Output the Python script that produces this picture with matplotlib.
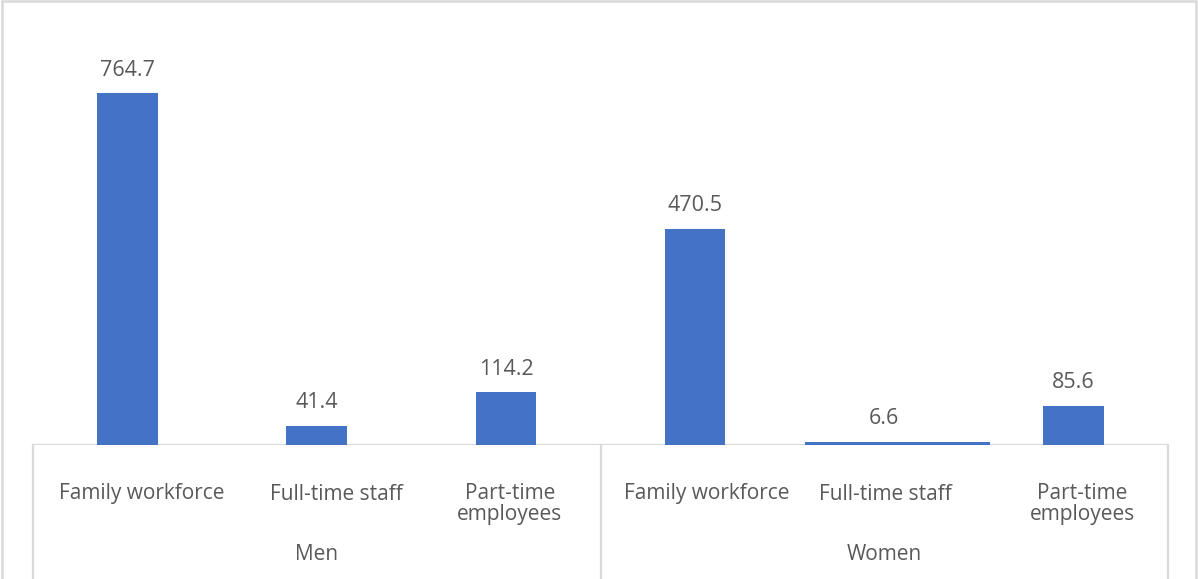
import matplotlib.pyplot as plt
from matplotlib.patches import Rectangle

groups = ["Men", "Women"]
categories = ["Family workforce", "Full-time staff", "Part-time\nemployees"]
men = [764.7, 41.4, 114.2]
women = [470.5, 6.6, 85.6]

plt.rcParams['font.family'] = ['Open Sans', 'DejaVu Sans']
BLUE = '#4472c4'
GREY_TXT = '#595959'
GRID = '#d9d9d9'

W, H = 1198, 579
fig = plt.figure(figsize=(W / 100, H / 100), dpi=100)

x0, x1 = 33, 1168
y_base, y_top = 445, 31
ax = fig.add_axes([x0 / W, (H - y_base) / H, (x1 - x0) / W, (y_base - y_top) / H])

values = men + women
n = len(values)
xs = list(range(n))
widths = [0.32] * n
widths[4] = 0.98  # the small full-time bar is drawn wide
offsets = [0] * n
offsets[4] = 0.07
bars = ax.bar([x + o for x, o in zip(xs, offsets)], values, width=widths, color=BLUE, zorder=2)

for x, v in zip(xs, values):
    ax.annotate(f"{v:.1f}", (x, v), xytext=(0, 9), textcoords='offset points',
                ha='center', va='bottom', fontsize=15.5, color=GREY_TXT)

ax.set_xlim(-0.5, n - 0.5)
ax.set_ylim(0, 900)
ax.axis('off')
ax.axhline(0, color=GRID, lw=1.6, zorder=1)

# multi-level category axis drawn below the plot area
def px_to_fig(px, py):
    return px / W, (H - py) / H

slot = (x1 - x0) / n
nudge = [14, 20, 4, 12, 1, 9]  # label shift in px
for i, v in enumerate(values):
    cx = x0 + slot * (i + 0.5) + nudge[i]
    label = categories[i % 3]
    cy = 504 if "\n" in label else 494
    fx, fy = px_to_fig(cx, cy)
    fig.text(fx, fy, label, ha='center', va='center', fontsize=15,
             color=GREY_TXT, linespacing=1.05)

for g, name in enumerate(groups):
    cx = x0 + slot * (3 * g + 1.5)
    fx, fy = px_to_fig(cx, 555)
    fig.text(fx, fy, name, ha='center', va='center', fontsize=15, color=GREY_TXT)

for px in [x0, x0 + slot * 3, x1]:
    fx, fy0 = px_to_fig(px, y_base)
    _, fy1 = px_to_fig(px, H)
    fig.add_artist(plt.Line2D([fx, fx], [fy0, fy1], color=GRID, lw=1.6))

fig.add_artist(Rectangle((1.5 / W, -0.1), (W - 4) / W, 1.1 - 1.5 / H,
                         transform=fig.transFigure, fill=False,
                         edgecolor=GRID, lw=1.8))

fig.savefig('out.png', dpi=100)
